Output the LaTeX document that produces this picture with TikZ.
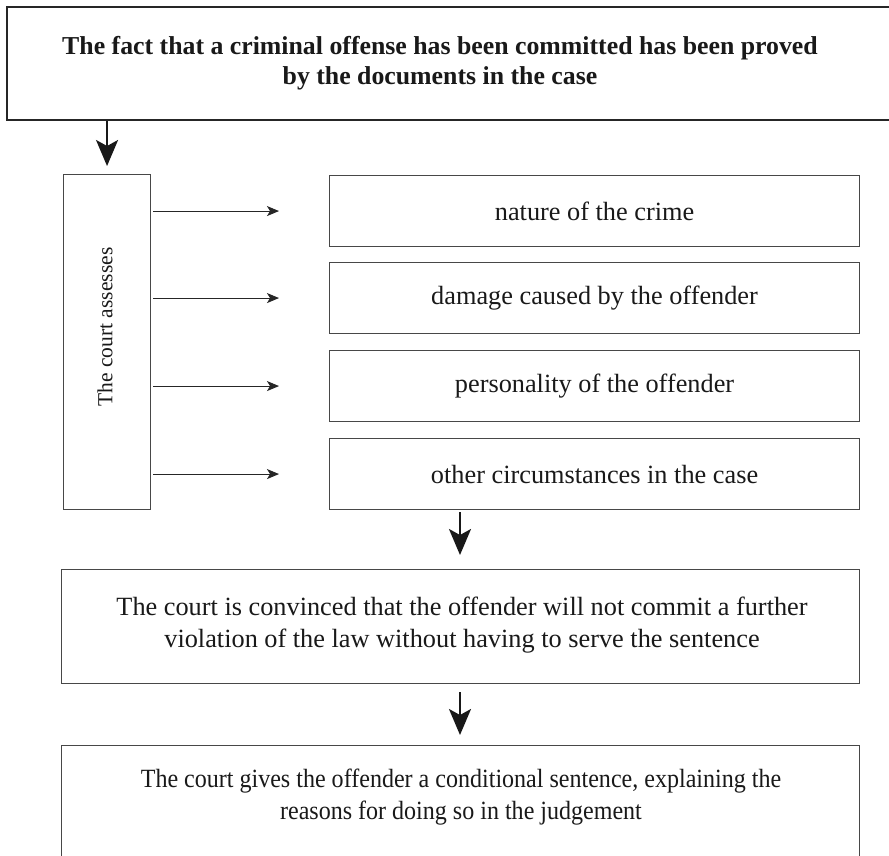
\documentclass[tikz,border=0pt]{standalone}
\usepackage{fontspec}
\setmainfont{Liberation Serif}
\newfontfamily\narrowserif[FakeStretch=0.914]{Liberation Serif}
\usetikzlibrary{arrows.meta}
\begin{document}
\begin{tikzpicture}[x=1pt,y=-1pt,
  box/.style={draw=black!72, line width=1.1pt, rectangle, inner sep=0pt, anchor=north west},
  txt/.style={font=\fontsize{26.3}{32}\selectfont, align=center, inner sep=0pt, text=black!90},
  bigarrow/.style={line width=2pt, draw=black!90, -{Stealth[length=26pt,width=22pt,inset=6pt]}},
  smallarrow/.style={line width=1pt, draw=black!85, -{Stealth[length=12pt,width=10pt,inset=3pt]}}]
\clip (0,0) rectangle (889,855);
\fill[white] (0,0) rectangle (889,855);
% top box (right side runs off the page)
\node[box, line width=2pt, draw=black!85, minimum width=900, minimum height=113] (top) at (6,6) {};
\node[txt, font=\fontsize{25.8}{30}\selectfont\bfseries] (toptext) at (440,63)
  {The fact that a criminal offense has been committed has been proved\\by the documents in the case};
% left box
\node[box, minimum width=87, minimum height=335] (lb) at (63,174) {};
\node[txt, font=\fontsize{21.5}{26}\selectfont, rotate=90] (lbtext) at (105,327) {The court assesses};
% right boxes
\node[box, minimum width=530, minimum height=71] (r1) at (329,175) {};
\node[box, minimum width=530, minimum height=71] (r2) at (329,262) {};
\node[box, minimum width=530, minimum height=71] (r3) at (329,350) {};
\node[box, minimum width=530, minimum height=71] (r4) at (329,438) {};
\node[txt] at (r1.center) {nature of the crime};
\node[txt] at (r2.center) {damage caused by the offender};
\node[txt] at (r3.center) {personality of the offender};
\node[txt] at (r4.center) {other circumstances in the case};
% convinced box
\node[box, minimum width=798, minimum height=114] (conv) at (61,569) {};
\node[txt] (convtext) at (462,625)
  {The court is convinced that the offender will not commit a further\\violation of the law without having to serve the sentence};
% bottom box (bottom edge off the page)
\node[box, minimum width=798, minimum height=140] (bot) at (61,745) {};
\node[txt, font=\fontsize{26.3}{31.5}\selectfont\narrowserif] (bottext) at (461,797)
  {The court gives the offender a conditional sentence, explaining the\\reasons for doing so in the judgement};
% connectors
\coordinate (ax) at (460,0);
\draw[bigarrow, shorten >=8pt] (top.south -| lb.north) -- (lb.north);
\foreach \r in {r1,r2,r3,r4}
  \draw[smallarrow, shorten <=2pt, shorten >=50pt] (lb.east |- \r.west) -- (\r.west);
\draw[bigarrow, shorten <=2pt, shorten >=14pt] (r4.south -| ax) -- (conv.north -| ax);
\draw[bigarrow, shorten <=8pt, shorten >=10pt] (conv.south -| ax) -- (bot.north -| ax);
\end{tikzpicture}
\end{document}
